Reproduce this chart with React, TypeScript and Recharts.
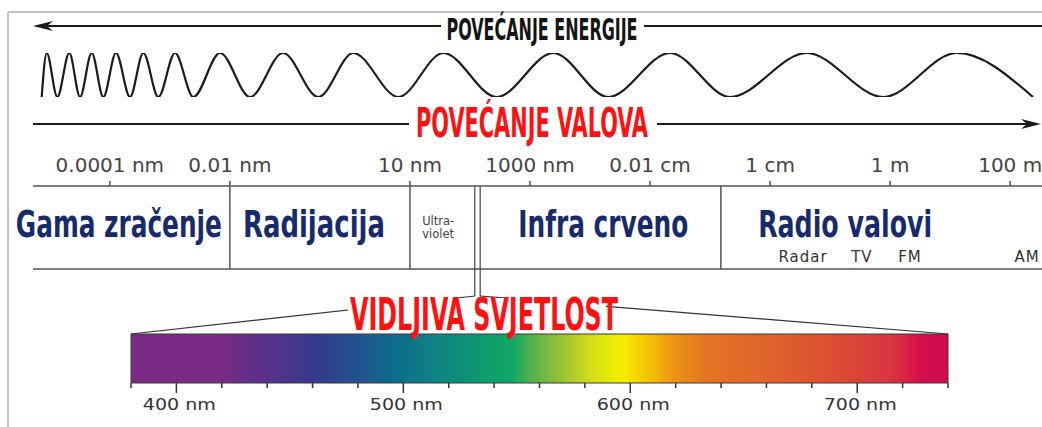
import React from "react";
import {
  ComposedChart,
  Line,
  Scatter,
  XAxis,
  YAxis,
  ReferenceLine,
  ReferenceArea,
  ReferenceDot,
} from "recharts";

const W = 1042;
const H = 427;

// turning points of the drawn wave (position along the strip, crest = 1 / trough = -1)
const waveTurnX = [
  41.7, 46.7, 57.3, 69.3, 80, 91.7, 103.3, 116, 130, 143.3, 158.3, 175, 193.3, 220, 250,
  283, 318.3, 353.3, 398.3, 443.3, 496.7, 553.3, 608.3, 670, 730, 806.7, 883.3, 956.7, 1033,
];
const waveTurnY = [
  -1, 1, -1, 1, -1, 1, -1, 1, -1, 1, -1, 1, -1, 1, -1,
  1, -1, 1, -1, 1, -1, 1, -1, 1, -1, 1, -1, 1, -1,
];

// wavelength scale (log10 of metres)
const scaleExtent = [-14.28, 2.53];
const scaleTicks = [-13, -11, -8, -6, -4, -2, 0, 2];
const scaleLabels = ["0.0001 nm", "0.01 nm", "10 nm", "1000 nm", "0.01 cm", "1 cm", "1 m", "100 m"];
const regionBounds = [-11, -8, -2.82];
const visibleMarks = [-6.92, -6.83];
const regionNames = ["Gama zračenje", "Radijacija", "Ultra-\nviolet", "Infra crveno", "Radio valovi"];
const regionNameAt = [-12.85, -9.6, -7.53, -4.78, -0.75];
const bandNames = ["Radar", "TV", "FM", "AM"];
const bandAt = [-1.45, -0.47, 0.33, 2.28];

// visible light (nm)
const visibleExtent = [380, 740];
const visibleTicks = [380, 400, 420, 440, 460, 480, 500, 520, 540, 560, 580, 600, 620, 640, 660, 680, 700, 720, 740];
const visibleLabelled = [400, 500, 600, 700];
const spectrumNm = [380, 420, 435, 462, 484, 494, 513, 535, 548, 557, 572, 583, 596, 609, 619, 634, 663, 692, 715, 729, 740];
const spectrumColor = [
  "#7b2a85", "#7a2b84", "#5f2f8a", "#343a8c", "#1f5890", "#0d6a8c", "#0e8284", "#0f9a70",
  "#10a866", "#58b248", "#a2c630", "#d4df14", "#f4ef04", "#f2c004", "#ec9414", "#e47424",
  "#e0622c", "#dc4c34", "#d83640", "#d60c4c", "#cc0c4e",
];

const titles = ["POVEĆANJE ENERGIJE", "POVEĆANJE VALOVA", "VIDLJIVA SVJETLOST"];

// layout (pixels)
const BAND_TOP = 146;
const BAND_AXIS_H = 40;
const BAND_DEPTH = 83;
const MARK_DEPTH = 110;
const NAME_DEPTH = 51;
const SUB_DEPTH = 76;
const NAME_SIZE = 38;
const titleStyle = [
  { cx: 542, y: 40, w: 191, size: 30, color: "#141414", bg: [441, 16, 203, 28] },
  { cx: 532, y: 137, w: 232, size: 41, color: "#ff1111", bg: [409, 104, 248, 36] },
  { cx: 484, y: 330, w: 268, size: 45, color: "#ff1111", bg: [348, 298, 258, 34] },
];
const nameWidth: Record<string, number> = {
  "Gama zračenje": 206,
  Radijacija: 142,
  "Infra crveno": 170,
  "Radio valovi": 174,
};
const frameLines = [
  [8, 12, W, 12],
  [8, 12, 8, H],
];
const arrowLines = [
  [36, 26, W, 26],
  [33, 124, 1034, 124],
];
const connectorLines = [
  [475, 296, 131, 334],
  [480, 296, 948, 334],
];

const condensed = "'Liberation Sans Narrow', 'DejaVu Sans Condensed', 'Liberation Sans', sans-serif";
const plain = "'DejaVu Sans', sans-serif";

const waveData = waveTurnX.map((x, i) => ({ x, y: waveTurnY[i] }));
const nameData = regionNames.map((name, i) => ({ x: regionNameAt[i], y: NAME_DEPTH, name }));
const bandData = bandNames.map((name, i) => ({ x: bandAt[i], y: SUB_DEPTH, name }));

const RegionName = (props: any) => {
  const { cx, cy, payload } = props;
  const lines = payload.name.split("\n");
  if (lines.length > 1) {
    return (
      <g>
        {lines.map((l: string, i: number) => (
          <text
            key={i}
            x={cx}
            y={cy - 12 + i * 12.5}
            textAnchor="middle"
            fontFamily={plain}
            fontSize={11.5}
            fill="#444"
          >
            {l}
          </text>
        ))}
      </g>
    );
  }
  const w = nameWidth[payload.name];
  // set the size so the natural width is close to the target, then stretch to full height
  const size = Math.min(NAME_SIZE, w / (payload.name.length * 0.58));
  return (
    <g transform={`translate(${cx},${cy}) scale(1,${NAME_SIZE / size})`}>
      <text
        x={0}
        y={0}
        textAnchor="middle"
        fontFamily={condensed}
        fontWeight="bold"
        fontSize={size}
        fill="#172a6b"
        textLength={w}
        lengthAdjust="spacingAndGlyphs"
      >
        {payload.name}
      </text>
    </g>
  );
};

const BandName = (props: any) => {
  const { cx, cy, payload } = props;
  return (
    <text x={cx} y={cy} textAnchor="middle" fontFamily={plain} fontSize={15} letterSpacing={1} fill="#333">
      {payload.name}
    </text>
  );
};

const SpectrumTick = (props: any) => {
  const { x, y, payload } = props;
  const major = visibleLabelled.includes(payload.value);
  return (
    <g>
      <line x1={x} y1={y} x2={x} y2={y + (major ? 10 : 5)} stroke="#333" strokeWidth={1.5} />
      {major && (
        <text
          x={x + 3}
          y={y + 27}
          textAnchor="middle"
          fontFamily={plain}
          fontSize={15}
          fill="#333"
          textLength={73}
          lengthAdjust="spacingAndGlyphs"
        >
          {payload.value} nm
        </text>
      )}
    </g>
  );
};

const Arrowhead = (dir: number) => (props: any) => {
  const { cx, cy } = props;
  const b = cx + dir * 20;
  const n = cx + dir * 14;
  return <path d={`M${cx},${cy} L${b},${cy - 5} L${n},${cy} L${b},${cy + 5} Z`} fill="#1c1c1c" />;
};

const Title = (i: number) => (props: any) => {
  const { cx, cy } = props;
  const s = titleStyle[i];
  return (
    <g>
      <rect x={s.bg[0]} y={s.bg[1]} width={s.bg[2]} height={s.bg[3]} fill="#fff" />
      <text
        x={cx}
        y={cy}
        textAnchor="middle"
        fontFamily={condensed}
        fontWeight="bold"
        fontSize={s.size}
        fill={s.color}
        textLength={s.w}
        lengthAdjust="spacingAndGlyphs"
      >
        {titles[i]}
      </text>
    </g>
  );
};

const seg = (l: number[], stroke: string, width: number, key: string) => (
  <ReferenceLine
    key={key}
    segment={[
      { x: l[0], y: l[1] },
      { x: l[2], y: l[3] },
    ]}
    stroke={stroke}
    strokeWidth={width}
    ifOverflow="visible"
  />
);

const layer = (top: number, h: number): React.CSSProperties => ({
  position: "absolute",
  left: 0,
  top,
  width: W,
  height: h,
});

export default function App() {
  return (
    <div style={{ position: "absolute", left: 0, top: 0, width: W, height: H, background: "#fff" }}>
      {/* wave */}
      <div style={layer(0, 145)}>
        <ComposedChart width={W} height={145} data={waveData} margin={{ top: 53, right: 0, bottom: 48, left: 0 }}>
          <XAxis type="number" dataKey="x" domain={[0, W]} hide allowDataOverflow />
          <YAxis type="number" domain={[-1, 1]} hide allowDataOverflow />
          <Line
            type="monotone"
            dataKey="y"
            stroke="#1c1c1c"
            strokeWidth={2.2}
            dot={false}
            isAnimationActive={false}
          />
        </ComposedChart>
      </div>

      {/* electromagnetic regions */}
      <div style={layer(BAND_TOP, 150)}>
        <ComposedChart width={W} height={150} margin={{ top: 0, right: 0, bottom: 0, left: 33 }}>
          <XAxis
            type="number"
            dataKey="x"
            orientation="top"
            height={BAND_AXIS_H}
            domain={scaleExtent}
            ticks={scaleTicks}
            interval={0}
            tickSize={5}
            tickMargin={9}
            tickFormatter={(v: number) => scaleLabels[scaleTicks.indexOf(v)]}
            tick={{ fontFamily: plain, fontSize: 20, fill: "#444" }}
            tickLine={{ stroke: "#555", strokeWidth: 1.5 }}
            axisLine={{ stroke: "#555", strokeWidth: 1.5 }}
          />
          <YAxis type="number" dataKey="y" domain={[0, MARK_DEPTH]} reversed hide />
          <ReferenceLine y={BAND_DEPTH} stroke="#555" strokeWidth={1.5} />
          {regionBounds.map((b) => seg([b, 0, b, BAND_DEPTH], "#555", 1.5, `b${b}`))}
          {visibleMarks.map((b) => seg([b, 0, b, MARK_DEPTH], "#444", 1.2, `v${b}`))}
          <Scatter data={nameData} shape={<RegionName />} isAnimationActive={false} />
          <Scatter data={bandData} shape={<BandName />} isAnimationActive={false} />
        </ComposedChart>
      </div>

      {/* visible spectrum */}
      <div style={layer(280, 147)}>
        <ComposedChart width={W} height={147} margin={{ top: 54, right: 94, bottom: 0, left: 131 }}>
          <defs>
            <linearGradient id="spectrum" x1="0" y1="0" x2="1" y2="0">
              {spectrumNm.map((nm, i) => (
                <stop
                  key={nm}
                  offset={(nm - visibleExtent[0]) / (visibleExtent[1] - visibleExtent[0])}
                  stopColor={spectrumColor[i]}
                />
              ))}
            </linearGradient>
          </defs>
          <XAxis
            type="number"
            dataKey="x"
            domain={visibleExtent}
            ticks={visibleTicks}
            interval={0}
            allowDataOverflow
            height={44}
            tickSize={0}
            tickMargin={0}
            tickLine={false}
            axisLine={false}
            tick={<SpectrumTick />}
          />
          <YAxis type="number" domain={[0, 1]} hide allowDataOverflow />
          <ReferenceArea
            x1={visibleExtent[0]}
            x2={visibleExtent[1]}
            y1={0}
            y2={1}
            fill="url(#spectrum)"
            fillOpacity={1}
            stroke="#3a3a3a"
            strokeWidth={1}
            ifOverflow="visible"
          />
        </ComposedChart>
      </div>

      {/* frame, arrows, connectors and titles */}
      <div style={layer(0, H)}>
        <ComposedChart width={W} height={H} margin={{ top: 0, right: 0, bottom: 0, left: 0 }}>
          <XAxis type="number" dataKey="x" domain={[0, W]} hide allowDataOverflow />
          <YAxis type="number" domain={[0, H]} reversed hide allowDataOverflow />
          {frameLines.map((l, i) => seg(l, "#c2c2c2", 2, `f${i}`))}
          {arrowLines.map((l, i) => seg(l, "#1c1c1c", 2, `a${i}`))}
          {connectorLines.map((l, i) => seg(l, "#333", 1.2, `c${i}`))}
          <ReferenceDot x={33} y={26} r={1} shape={Arrowhead(1)} ifOverflow="visible" />
          <ReferenceDot x={1041} y={124} r={1} shape={Arrowhead(-1)} ifOverflow="visible" />
          {titleStyle.map((s, i) => (
            <ReferenceDot key={`t${i}`} x={s.cx} y={s.y} r={1} shape={Title(i)} ifOverflow="visible" />
          ))}
        </ComposedChart>
      </div>
    </div>
  );
}
